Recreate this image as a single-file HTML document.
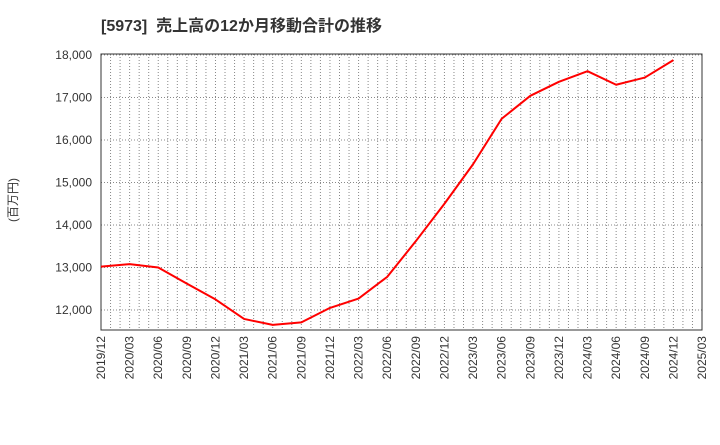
<!DOCTYPE html>
<html><head><meta charset="utf-8"><style>
body{margin:0;background:#fff;}
svg text{font-family:"Liberation Sans","Noto Sans CJK JP",sans-serif;}
</style></head><body>
<svg id="c" width="720" height="440" xmlns="http://www.w3.org/2000/svg">
<text x="101" y="31" font-size="16" font-weight="bold" fill="#333">[5973]&#160;&#160;売上高の12か月移動合計の推移</text>
<text transform="translate(17,200) rotate(-90)" text-anchor="middle" font-size="12" fill="#333">(百万円)</text>
<g id="grid"></g><g id="axes"></g><g id="series"></g>
</svg>
<script>
const categories=["2019/12","2020/03","2020/06","2020/09","2020/12","2021/03","2021/06","2021/09","2021/12","2022/03","2022/06","2022/09","2022/12","2023/03","2023/06","2023/09","2023/12","2024/03","2024/06","2024/09","2024/12"];
const xTickLabels=["2019/12","2020/03","2020/06","2020/09","2020/12","2021/03","2021/06","2021/09","2021/12","2022/03","2022/06","2022/09","2022/12","2023/03","2023/06","2023/09","2023/12","2024/03","2024/06","2024/09","2024/12","2025/03"];
const salesValues=[13020,13080,13000,12620,12250,11790,11650,11710,12050,12270,12780,13620,14500,15430,16500,17040,17370,17620,17300,17470,17880];
const yTicks=[12000,13000,14000,15000,16000,17000,18000];
const L=101,R=702,T=54,B=330,yMin=11530,yMax=18024;
const NS="http://www.w3.org/2000/svg";
const nQ=xTickLabels.length-1;
function xScale(i){return L+(R-L)*i/nQ;}
function yScale(v){return B-(v-yMin)/(yMax-yMin)*(B-T);}
function mk(t,a,p){const e=document.createElementNS(NS,t);for(const k in a)e.setAttribute(k,a[k]);p.appendChild(e);return e;}
const g=document.getElementById('grid'),ax=document.getElementById('axes'),s=document.getElementById('series');
for(let m=1;m<nQ*3;m++){const x=L+(R-L)*m/(nQ*3);
const l=mk('line',{x1:x,x2:x,y1:T,y2:B,stroke:'#888','stroke-dasharray':'1,2','stroke-width':1},g);

}
yTicks.forEach(v=>{const y=yScale(v);
const l=mk('line',{x1:L,x2:R,y1:y,y2:y,stroke:'#888','stroke-dasharray':'1,2','stroke-width':1},g);


const t=mk('text',{x:92,y:y+4,'text-anchor':'end','font-size':12,fill:'#333'},ax);t.textContent=v.toLocaleString('en-US');

});
xTickLabels.forEach((lab,i)=>{const x=xScale(i);
const t=mk('text',{transform:`translate(${x+4},336) rotate(-90)`,'text-anchor':'end','font-size':12,fill:'#333'},ax);t.textContent=lab;

});
const fr=mk('rect',{x:L,y:T,width:R-L,height:B-T,fill:'none',stroke:'#333','stroke-width':1},ax);


const pl=mk('polyline',{points:salesValues.map((v,i)=>xScale(i)+','+yScale(v)).join(' '),fill:'none',stroke:'#f00','stroke-width':2,'stroke-linejoin':'round'},s);


</script>
</body></html>
